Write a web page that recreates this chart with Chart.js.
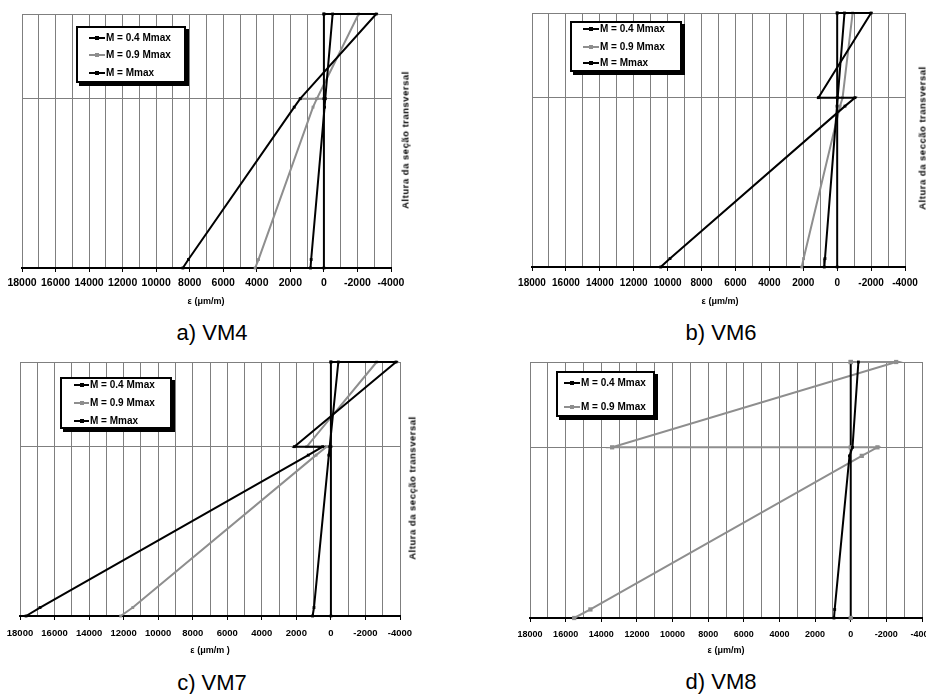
<!DOCTYPE html>
<html>
<head>
<meta charset="utf-8">
<script src="https://cdn.jsdelivr.net/npm/chart.js@4.4.1/dist/chart.umd.min.js"></script>
<style>
  body { margin: 0; width: 926px; height: 694px; overflow: hidden; background: #fff; position: relative; font-family: Arial, "Liberation Sans", sans-serif; }
  canvas { position: absolute; }
  .legend { position: absolute; border: 2px solid #000; background: #fff; box-shadow: 3px 3px 0 #000; box-sizing: border-box; }
  .row { position: absolute; font-weight: bold; font-size: 10px; color: #000; white-space: nowrap; line-height: 12px; }
  .sample { position: absolute; height: 2px; }
  .mark { position: absolute; width: 4px; height: 4px; }
  .caption { position: absolute; font-size: 22px; transform: translate(-50%, -50%); white-space: nowrap; }
  .xtitle { position: absolute; font-size: 9px; font-weight: bold; transform: translate(-50%, -50%); white-space: nowrap; }
  .ytitle { position: absolute; font-size: 9.5px; font-weight: bold; transform: translate(-50%, -50%) rotate(-90deg); white-space: nowrap; letter-spacing: 0.5px; }
</style>
</head>
<body>
<script>
// tick labels on the strain axis
const X_LABELS = [18000, 16000, 14000, 12000, 10000, 8000, 6000, 4000, 2000, 0, -2000, -4000];
const Y_GRID = [20, 30];
const SERIES_NAMES = ['M = 0.4 Mmax', 'M = 0.9 Mmax', 'M = Mmax'];

// heights of the reading points (section height 30)
const zeroX = [0, 0, 0];
const zeroY = [0, 20, 30];
const y5 = [30, 20, 19, 1, 0];

// VM4
const vm4_04x = [-520, -80, -40, 760, 800];
const vm4_09x = [-2070, 420, 1410, -80, 420, 650, 3900, 4100];
const vm4_09y = [30, 20, 20, 20, 20, 19, 1, 0];
const vm4_Mx = [0, -3120, 1410, 1770, 8080, 8410];
const vm4_My = [30, 30, 20, 19, 1, 0];

// VM6
const vm6_04x = [-430, -30, 10, 720, 760];
const vm6_09x = [-910, -320, -170, 1980, 2090];
const vm6_Mx = [0, -2000, 1110, -1050, -460, 9860, 10410];
const vm6_My = [30, 30, 20, 20, 19, 1, 0];

// VM7
const vm7_04x = [-430, 70, 120, 980, 1060];
const vm7_09x = [-2650, 1400, 250, 860, 11470, 12170];
const vm7_09y = [30, 20, 20, 19, 1, 0];
const vm7_Mx = [0, -3770, 2120, 480, 1310, 16840, 17650];
const vm7_My = [30, 30, 20, 20, 19, 1, 0];

// VM8
const vm8_04x = [-430, -100, 70, 900, 940];
const vm8_09x = [0, -2550, 13390, -1500, -620, 14610, 15520];
const vm8_09y = [30, 30, 20, 20, 19, 1, 0];

const BLACK = '#000000';
const GRAY = '#8e8e8e';
const GRID = '#7f7f7f';

function pts(xs, ys) {
    return xs.map((x, i) => ({ x: x, y: ys[i] }));
}

function series(label, xs, ys, color, markColor, radius) {
    return {
        label: label,
        data: pts(xs, ys),
        showLine: true,
        borderColor: color,
        borderWidth: 2,
        pointStyle: 'rect',
        pointRadius: radius || 2,
        pointBackgroundColor: markColor || color,
        pointBorderColor: markColor || color,
        pointBorderWidth: 0,
        tension: 0,
        clip: false
    };
}

const panels = [
    {
        area: { L: 22, R: 391, T: 14, B: 268 }, tickFont: 10.5, tickPad: 5,
        datasets: [
            series(SERIES_NAMES[0], vm4_04x, y5, BLACK),
            series(SERIES_NAMES[2], vm4_Mx, vm4_My, BLACK),
            series(null, zeroX, zeroY, BLACK),
            series(SERIES_NAMES[1], vm4_09x, vm4_09y, GRAY)
        ],
        legend: { x: 76, y: 26, w: 110, h: 57, rows: [37.7, 55, 73.3], sx: 89, tx: 106, names: [0, 1, 2] },
        caption: { text: 'a) VM4', x: 212, y: 333 },
        xtitle: { x: 206, y: 301 },
        ytitle: { text: 'Altura da seção transversal', x: 405, y: 140 }
    },
    {
        area: { L: 532, R: 905, T: 13, B: 267 }, tickFont: 10, tickPad: 6,
        datasets: [
            series(SERIES_NAMES[0], vm6_04x, y5, BLACK),
            series(SERIES_NAMES[2], vm6_Mx, vm6_My, BLACK),
            series(null, zeroX, zeroY, BLACK),
            series(SERIES_NAMES[1], vm6_09x, y5, GRAY)
        ],
        legend: { x: 570, y: 21, w: 112, h: 51, rows: [29.3, 47.3, 63.3], sx: 583, tx: 600, names: [0, 1, 2] },
        caption: { text: 'b) VM6', x: 721, y: 333 },
        xtitle: { x: 720, y: 301 },
        ytitle: { text: 'Altura da secção transversal', x: 922, y: 138 }
    },
    {
        area: { L: 20, R: 400, T: 362, B: 616 }, tickFont: 9.5, tickPad: 8,
        datasets: [
            series(SERIES_NAMES[0], vm7_04x, y5, BLACK),
            series(SERIES_NAMES[2], vm7_Mx, vm7_My, BLACK),
            series(null, zeroX, zeroY, BLACK),
            series(SERIES_NAMES[1], vm7_09x, vm7_09y, GRAY)
        ],
        legend: { x: 60, y: 377, w: 112, h: 52, rows: [385, 403.3, 421], sx: 74, tx: 90, names: [0, 1, 2] },
        caption: { text: 'c) VM7', x: 212, y: 683 },
        xtitle: { x: 210, y: 650, text: 'ε (μm/m )' },
        ytitle: { text: 'Altura da secção transversal', x: 412, y: 488 }
    },
    {
        area: { L: 530, R: 922, T: 362, B: 618 }, tickFont: 9, tickPad: 7,
        datasets: [
            series(SERIES_NAMES[0], vm8_04x, y5, BLACK),
            series(null, zeroX, zeroY, BLACK, GRAY, 3),
            series(SERIES_NAMES[1], vm8_09x, vm8_09y, GRAY, GRAY, 3)
        ],
        legend: { x: 556, y: 371, w: 99, h: 46, rows: [383.3, 407.3], sx: 564, tx: 581, names: [0, 1] },
        caption: { text: 'd) VM8', x: 721, y: 682 },
        xtitle: { x: 726, y: 650 },
        ytitle: null
    }
];

const PAD_L = 24, PAD_R = 26, PAD_T = 8, PAD_B = 4, X_AXIS_H = 26;

panels.forEach(p => {
    const a = p.area;
    const canvas = document.createElement('canvas');
    const w = (a.R - a.L) + PAD_L + PAD_R;
    const h = (a.B - a.T) + PAD_T + PAD_B + X_AXIS_H;
    canvas.width = w;
    canvas.height = h;
    canvas.style.left = (a.L - PAD_L) + 'px';
    canvas.style.top = (a.T - PAD_T) + 'px';
    canvas.style.width = w + 'px';
    canvas.style.height = h + 'px';
    document.body.appendChild(canvas);

    new Chart(canvas.getContext('2d'), {
        type: 'scatter',
        data: { datasets: p.datasets },
        options: {
            responsive: false,
            animation: false,
            events: [],
            layout: { padding: { left: PAD_L, right: PAD_R, top: PAD_T, bottom: PAD_B } },
            plugins: { legend: { display: false }, tooltip: { enabled: false } },
            scales: {
                x: {
                    type: 'linear',
                    reverse: true,
                    min: -4000,
                    max: 18000,
                    ticks: {
                        stepSize: 1000,
                        autoSkip: false,
                        maxRotation: 0,
                        padding: p.tickPad,
                        color: '#000',
                        font: { family: 'Arial', weight: 'bold', size: p.tickFont },
                        callback: v => X_LABELS.includes(v) ? String(v) : ''
                    },
                    grid: {
                        color: GRID,
                        lineWidth: 1,
                        tickLength: 4,
                        tickColor: ctx => (ctx.tick && X_LABELS.includes(ctx.tick.value)) ? '#000' : 'rgba(0,0,0,0)'
                    },
                    border: { color: '#000', width: 2 },
                    afterFit: s => { s.height = X_AXIS_H; }
                },
                y: {
                    type: 'linear',
                    min: 0,
                    max: 30,
                    afterBuildTicks: s => { s.ticks = Y_GRID.map(v => ({ value: v })); },
                    ticks: { display: false },
                    grid: { color: GRID, lineWidth: 1, drawTicks: false },
                    border: { display: false },
                    afterFit: s => { s.width = 0; }
                }
            }
        }
    });

    // legend box
    const lg = p.legend;
    const box = document.createElement('div');
    box.className = 'legend';
    box.style.left = lg.x + 'px';
    box.style.top = lg.y + 'px';
    box.style.width = lg.w + 'px';
    box.style.height = lg.h + 'px';
    document.body.appendChild(box);
    lg.names.forEach((idx, i) => {
        const ds = p.datasets.find(d => d.label === SERIES_NAMES[idx]);
        const cy = lg.rows[i];
        const line = document.createElement('div');
        line.className = 'sample';
        line.style.left = lg.sx + 'px';
        line.style.width = (lg.tx - lg.sx - 1) + 'px';
        line.style.top = (cy - 1) + 'px';
        line.style.background = ds.borderColor;
        document.body.appendChild(line);
        const mk = document.createElement('div');
        mk.className = 'mark';
        mk.style.left = ((lg.sx + lg.tx) / 2 - 2.5) + 'px';
        mk.style.top = (cy - 2) + 'px';
        mk.style.background = ds.pointBackgroundColor;
        document.body.appendChild(mk);
        const t = document.createElement('div');
        t.className = 'row';
        t.style.left = lg.tx + 'px';
        t.style.top = (cy - 6) + 'px';
        t.textContent = SERIES_NAMES[idx];
        document.body.appendChild(t);
    });

    const cap = document.createElement('div');
    cap.className = 'caption';
    cap.style.left = p.caption.x + 'px';
    cap.style.top = p.caption.y + 'px';
    cap.textContent = p.caption.text;
    document.body.appendChild(cap);

    const xt = document.createElement('div');
    xt.className = 'xtitle';
    xt.style.left = p.xtitle.x + 'px';
    xt.style.top = p.xtitle.y + 'px';
    xt.textContent = p.xtitle.text || 'ε (μm/m)';
    document.body.appendChild(xt);

    if (p.ytitle) {
        const yt = document.createElement('div');
        yt.className = 'ytitle';
        yt.style.left = p.ytitle.x + 'px';
        yt.style.top = p.ytitle.y + 'px';
        yt.textContent = p.ytitle.text;
        document.body.appendChild(yt);
    }
});
</script>
</body>
</html>
